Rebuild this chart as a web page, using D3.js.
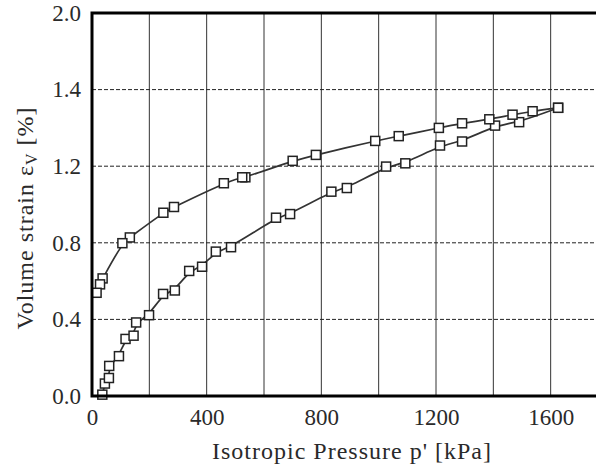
<!DOCTYPE html>
<html>
<head>
<meta charset="utf-8">
<script src="https://cdn.jsdelivr.net/npm/d3@7"></script>
<style>
  body { margin: 0; background: #fff; }
  svg { display: block; }
</style>
</head>
<body>
<div id="chart"></div>
<script>
// loading branch (lower curve)
const loadP = [36, 45, 59, 60, 94, 117, 145, 154, 199, 248, 289, 339, 384, 432, 485, 642, 691, 835, 889, 1026, 1093, 1214, 1291, 1406, 1490, 1626];
const loadV = [0.007, 0.065, 0.094, 0.157, 0.208, 0.298, 0.315, 0.384, 0.422, 0.533, 0.551, 0.653, 0.675, 0.754, 0.777, 0.931, 0.950, 1.067, 1.086, 1.198, 1.215, 1.308, 1.329, 1.412, 1.430, 1.505];

// unloading branch (upper curve)
const unloadP = [1626, 1537, 1467, 1386, 1291, 1210, 1070, 988, 781, 700, 535, 524, 460, 286, 249, 132, 106, 37, 28, 16];
const unloadV = [1.505, 1.487, 1.469, 1.445, 1.424, 1.400, 1.357, 1.332, 1.259, 1.228, 1.142, 1.142, 1.111, 0.987, 0.957, 0.828, 0.798, 0.614, 0.583, 0.539];

const xTickVals = [0, 400, 800, 1200, 1600];
const xGridVals = [200, 400, 600, 800, 1000, 1200, 1400, 1600, 1800];
const yTickVals = [0, 0.4, 0.8, 1.2, 1.6, 2.0];
const yTickLabels = ["0.0", "0.4", "0.8", "1.2", "1.4", "2.0"];

const margin = { top: 13, right: -12, bottom: 71, left: 92 };
const W = 596, H = 467;
const width = W - margin.left - margin.right;
const height = H - margin.top - margin.bottom;
const font = "'Liberation Serif', 'Times New Roman', serif";
const ink = "#2a2a2a";

const svg = d3.select("#chart")
    .append("svg")
    .attr("width", W)
    .attr("height", H)
    .append("g")
    .attr("transform", `translate(${margin.left},${margin.top})`);

const x = d3.scaleLinear().domain([0, 1800]).range([0, width]);
const y = d3.scaleLinear().domain([0, 2]).range([height, 0]);

// vertical grid (solid)
svg.selectAll("line.vgrid")
    .data(xGridVals)
    .enter().append("line")
    .attr("class", "vgrid")
    .attr("x1", d => x(d)).attr("x2", d => x(d))
    .attr("y1", 0).attr("y2", height)
    .attr("stroke", "#333").attr("stroke-width", 1);

// horizontal grid (dashed)
svg.selectAll("line.hgrid")
    .data(yTickVals.filter(d => d > 0 && d < 2))
    .enter().append("line")
    .attr("class", "hgrid")
    .attr("x1", 0).attr("x2", width)
    .attr("y1", d => y(d)).attr("y2", d => y(d))
    .attr("stroke", "#222").attr("stroke-width", 1)
    .attr("stroke-dasharray", "4,2");

const line = d3.line()
    .x(d => x(d[0]))
    .y(d => y(d[1]))
    .curve(d3.curveBasis);

const series = [
    d3.zip(loadP, loadV),
    d3.zip(unloadP, unloadV)
];

series.forEach(pts => {
    svg.append("path")
        .datum(pts)
        .attr("d", line)
        .attr("fill", "none")
        .attr("stroke", "#333")
        .attr("stroke-width", 1.7);
});

const s = 9;
series.forEach(pts => {
    svg.append("g").selectAll("rect")
        .data(pts)
        .enter().append("rect")
        .attr("x", d => x(d[0]) - s / 2)
        .attr("y", d => y(d[1]) - s / 2)
        .attr("width", s).attr("height", s)
        .attr("fill", "#fff")
        .attr("stroke", "#222")
        .attr("stroke-width", 1.5);
});

// frame: left, top, bottom
svg.append("path")
    .attr("d", `M${width + 20},0 H0 V${height} H${width + 20}`)
    .attr("fill", "none")
    .attr("stroke", "#000")
    .attr("stroke-width", 3);

// axes
const yAxis = svg.append("g")
    .call(d3.axisLeft(y).tickValues(yTickVals).tickFormat((d, i) => yTickLabels[i]).tickSize(0).tickPadding(11));
yAxis.select(".domain").remove();
yAxis.selectAll("text")
    .attr("fill", ink)
    .style("font-family", font)
    .style("font-size", "23px");

const xAxis = svg.append("g")
    .attr("transform", `translate(0,${height})`)
    .call(d3.axisBottom(x).tickValues(xTickVals).tickFormat(d3.format("d")).tickSize(0).tickPadding(13));
xAxis.select(".domain").remove();
xAxis.selectAll("text")
    .attr("fill", ink)
    .style("font-family", font)
    .style("font-size", "23px");

// axis titles
svg.append("text")
    .attr("x", 260)
    .attr("y", 446)
    .attr("text-anchor", "middle")
    .attr("fill", ink)
    .style("font-family", font)
    .style("font-size", "24px")
    .style("letter-spacing", "1px")
    .text("Isotropic Pressure p' [kPa]");

const yTitle = svg.append("text")
    .attr("transform", `translate(${-59},${205}) rotate(-90)`)
    .attr("text-anchor", "middle")
    .attr("fill", ink)
    .style("font-family", font)
    .style("font-size", "24px")
    .style("letter-spacing", "1px");
yTitle.append("tspan").text("Volume strain ε");
yTitle.append("tspan").attr("baseline-shift", "-25%").style("font-size", "16px").text("V");
yTitle.append("tspan").text(" [%]");
</script>
</body>
</html>
